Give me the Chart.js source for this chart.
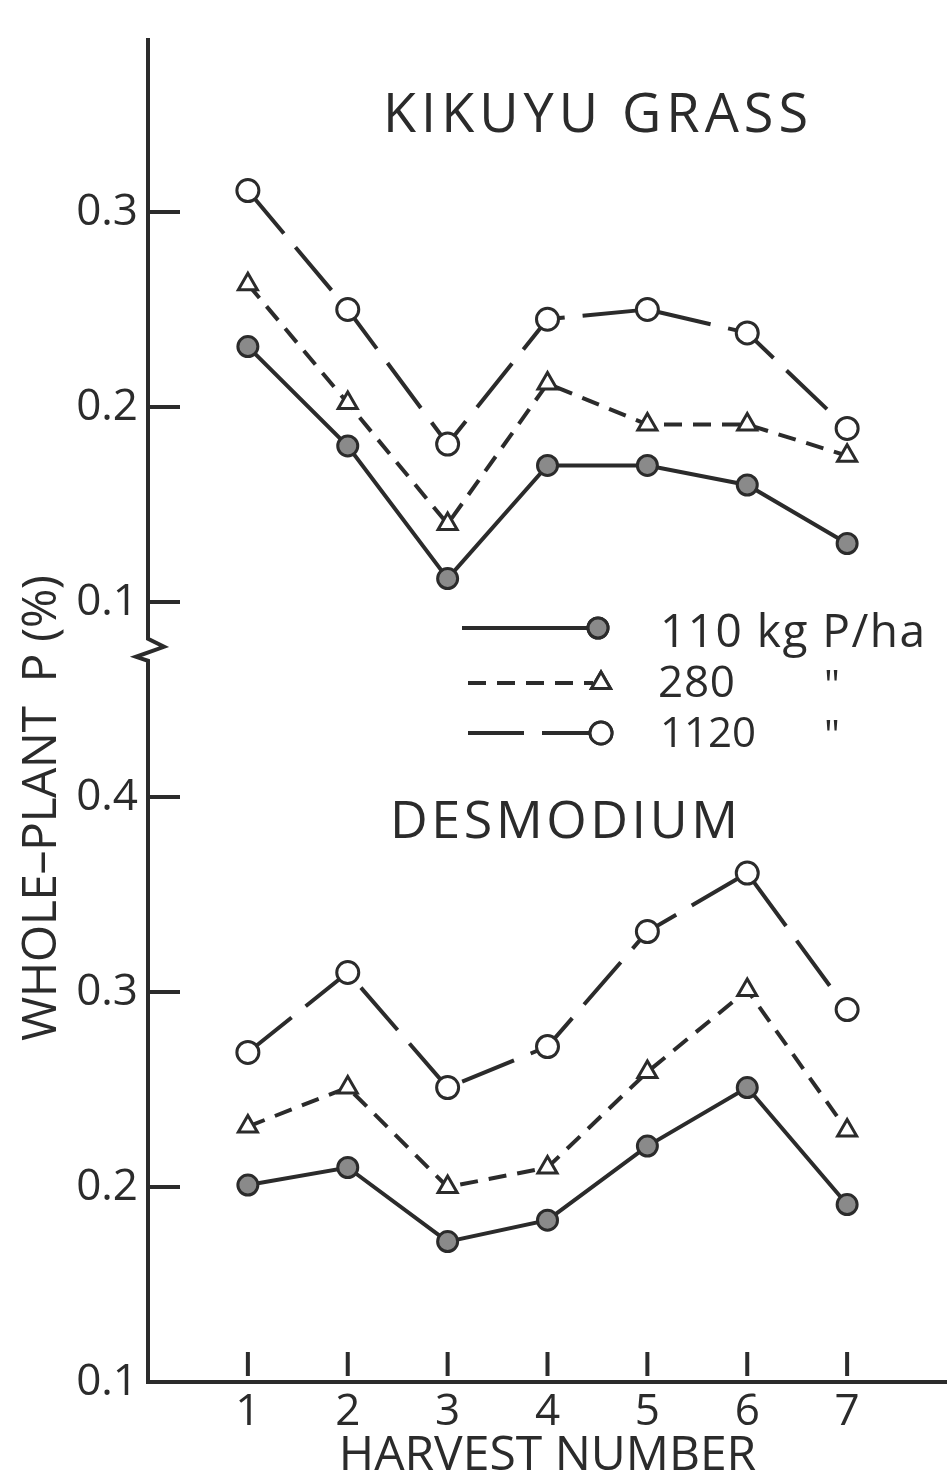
<!DOCTYPE html>
<html>
<head>
<meta charset="utf-8">
<script src="https://cdn.jsdelivr.net/npm/chart.js@4.4.1/dist/chart.umd.min.js"></script>
<style>
  html, body { margin: 0; padding: 0; background: #fff; }
  #wrap { width: 947px; height: 1480px; }
</style>
</head>
<body>
<div id="wrap"><canvas id="chart" width="947" height="1480"></canvas></div>
<script>
// Harvest numbers on the x axis
const harvests = [1, 2, 3, 4, 5, 6, 7];

// Kikuyu grass, whole-plant P (%)
const kikuyu110 = [0.231, 0.180, 0.112, 0.170, 0.170, 0.160, 0.130];
const kikuyu280 = [0.263, 0.202, 0.140, 0.212, 0.191, 0.191, 0.175];
const kikuyu1120 = [0.311, 0.250, 0.181, 0.245, 0.250, 0.238, 0.189];

// Desmodium, whole-plant P (%)
const desmodium110 = [0.201, 0.210, 0.172, 0.183, 0.221, 0.251, 0.191];
const desmodium280 = [0.231, 0.251, 0.200, 0.210, 0.259, 0.301, 0.229];
const desmodium1120 = [0.269, 0.310, 0.251, 0.272, 0.331, 0.361, 0.291];

// The kikuyu panel sits above the broken axis: shifted up by 0.4 on the shared scale
const KIKUYU_SHIFT = 0.4;
const yTickValues = [0.1, 0.2, 0.3, 0.4, 0.5, 0.6, 0.7];
const yTickLabels = ['0.1', '0.2', '0.3', '0.4', '0.1', '0.2', '0.3'];

const legendLabels = ['110 kg P/ha', '280', '1120'];

const INK = '#2b2b2b';
const FONT = '"Open Sans", sans-serif';

const styles = {
    p110: { borderDash: [], pointStyle: 'circle', pointRadius: 10, pointBackgroundColor: '#8a8a8a' },
    p280: { borderDash: [18, 11], pointStyle: 'triangle', pointRadius: 11, pointBackgroundColor: '#fff' },
    p1120: { borderDash: [56, 18], pointStyle: 'circle', pointRadius: 11, pointBackgroundColor: '#fff' }
};

function series(values, shift, style) {
    return Object.assign({
        data: values.map((v, i) => ({ x: harvests[i], y: v + shift })),
        borderColor: INK,
        borderWidth: 4,
        pointBorderColor: INK,
        pointBorderWidth: 3,
        tension: 0,
        fill: false
    }, style);
}

function spacedText(ctx, text, x0, x1, baseline, size) {
    ctx.font = size + 'px ' + FONT;
    ctx.letterSpacing = '0px';
    const w = ctx.measureText(text).width;
    const sp = text.length > 1 ? (x1 - x0 - w) / (text.length - 1) : 0;
    ctx.letterSpacing = sp + 'px';
    ctx.textAlign = 'left';
    ctx.textBaseline = 'alphabetic';
    ctx.fillText(text, x0, baseline);
    ctx.letterSpacing = '0px';
}

function drawMarker(ctx, style, x, y) {
    ctx.save();
    ctx.setLineDash([]);
    ctx.lineWidth = 3;
    ctx.strokeStyle = INK;
    ctx.fillStyle = style.pointBackgroundColor;
    Chart.helpers.drawPoint(ctx, { pointStyle: style.pointStyle, radius: style.pointRadius, rotation: 0, borderWidth: 3 }, x, y);
    ctx.fill();
    ctx.stroke();
    ctx.restore();
}

const decorations = {
    id: 'decorations',
    beforeDraw(chart) {
        const ctx = chart.ctx;
        ctx.save();
        ctx.fillStyle = '#fff';
        ctx.fillRect(0, 0, chart.width, chart.height);
        ctx.restore();
    },
    afterDraw(chart) {
        const ctx = chart.ctx;
        const xs = chart.scales.x, ys = chart.scales.y;
        const area = chart.chartArea;
        ctx.save();
        ctx.strokeStyle = INK;
        ctx.lineWidth = 4;
        ctx.setLineDash([]);

        // inward y ticks
        yTickValues.forEach(v => {
            if (v === 0.1) return;
            const py = ys.getPixelForValue(v);
            ctx.beginPath();
            ctx.moveTo(area.left, py);
            ctx.lineTo(area.left + 32, py);
            ctx.stroke();
        });

        // inward x ticks
        harvests.forEach(h => {
            const px = xs.getPixelForValue(h);
            ctx.beginPath();
            ctx.moveTo(px, area.bottom - 30);
            ctx.lineTo(px, area.bottom - 6);
            ctx.stroke();
        });

        // axis break between the two panels
        const yb = ys.getPixelForValue(0.476);
        ctx.fillStyle = '#fff';
        ctx.fillRect(area.left - 6, yb - 12, 12, 26);
        ctx.beginPath();
        ctx.moveTo(area.left, yb - 14);
        ctx.lineTo(area.left, yb - 10);
        ctx.lineTo(area.left + 16, yb - 2);
        ctx.lineTo(area.left - 12, yb + 8);
        ctx.lineTo(area.left, yb + 12);
        ctx.lineTo(area.left, yb + 16);
        ctx.stroke();

        // y axis title, rotated
        ctx.fillStyle = INK;
        ctx.save();
        ctx.translate(56, 808);
        ctx.rotate(-Math.PI / 2);
        spacedText(ctx, 'WHOLE–PLANT  P (%)', -233, 233, 0, 48);
        ctx.restore();

        // panel titles
        spacedText(ctx, 'KIKUYU GRASS', 383, 808, 132, 54);
        spacedText(ctx, 'DESMODIUM', 390, 738, 838, 52);

        // legend
        const rows = [
            { style: styles.p110, y: 628, x0: 462, mx: 598, tx: 660, tb: 647, size: 46, fit: 925 },
            { style: styles.p280, y: 683, x0: 468, mx: 601, tx: 658, tb: 697, size: 44, fit: 735 },
            { style: styles.p1120, y: 733, x0: 468, mx: 601, tx: 660, tb: 747, size: 42 }
        ];
        rows.forEach((r, i) => {
            ctx.save();
            ctx.strokeStyle = INK;
            ctx.lineWidth = 4;
            ctx.setLineDash(r.style.borderDash);
            ctx.beginPath();
            ctx.moveTo(r.x0, r.y);
            ctx.lineTo(r.mx - 8, r.y);
            ctx.stroke();
            ctx.restore();
            drawMarker(ctx, r.style, r.mx, r.y);
            ctx.fillStyle = INK;
            if (r.fit) {
                spacedText(ctx, legendLabels[i], r.tx, r.fit, r.tb, r.size);
            } else {
                ctx.font = r.size + 'px ' + FONT;
                ctx.letterSpacing = '0px';
                ctx.textAlign = 'left';
                ctx.textBaseline = 'alphabetic';
                ctx.fillText(legendLabels[i], r.tx, r.tb);
            }
            if (i > 0) {
                ctx.font = '40px ' + FONT;
                ctx.textAlign = 'left';
                ctx.fillText('"', 824, r.tb + 2);
            }
        });
        ctx.restore();
    }
};

new Chart(document.getElementById('chart'), {
    type: 'line',
    data: {
        datasets: [
            series(kikuyu110, KIKUYU_SHIFT, styles.p110),
            series(kikuyu280, KIKUYU_SHIFT, styles.p280),
            series(kikuyu1120, KIKUYU_SHIFT, styles.p1120),
            series(desmodium110, 0, styles.p110),
            series(desmodium280, 0, styles.p280),
            series(desmodium1120, 0, styles.p1120)
        ]
    },
    options: {
        responsive: false,
        animation: false,
        devicePixelRatio: 1,
        layout: { autoPadding: false, padding: { top: 40, right: 0, bottom: 0, left: 0 } },
        plugins: { legend: { display: false }, tooltip: { enabled: false } },
        scales: {
            x: {
                type: 'linear',
                min: 0,
                max: 8,
                afterBuildTicks: s => { s.ticks = harvests.map(v => ({ value: v })); },
                afterFit: s => { s.height = 98; },
                grid: { display: false, drawTicks: false },
                border: { display: true, color: INK, width: 4 },
                ticks: { color: INK, padding: 8, font: { family: FONT, size: 44, lineHeight: 1 }, callback: v => String(v) },
                title: { display: true, text: 'HARVEST NUMBER', color: INK, font: { family: FONT, size: 48, lineHeight: 1 }, padding: { top: 0, bottom: 0 } }
            },
            y: {
                type: 'linear',
                min: 0.1,
                max: 0.7882,
                afterBuildTicks: s => { s.ticks = yTickValues.map(v => ({ value: v })); },
                afterFit: s => { s.width = 148; },
                grid: { display: false, drawTicks: false },
                border: { display: true, color: INK, width: 4 },
                ticks: { color: INK, padding: 10, font: { family: FONT, size: 44 }, callback: (v, i) => yTickLabels[i] },
                title: { display: false }
            }
        }
    },
    plugins: [decorations]
});
</script>
</body>
</html>
